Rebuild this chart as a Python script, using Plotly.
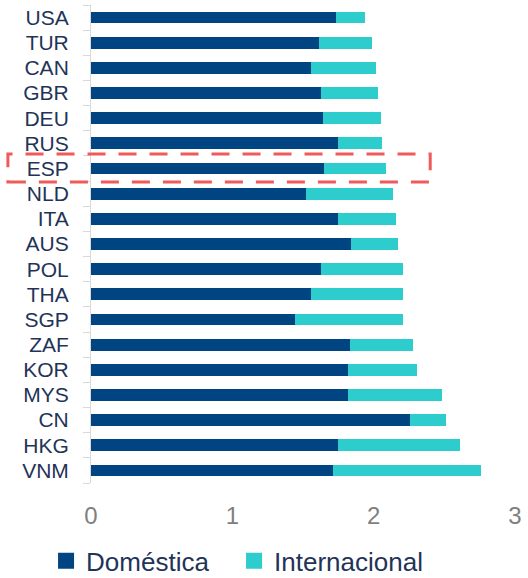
import plotly.graph_objects as go

countries = ["USA", "TUR", "CAN", "GBR", "DEU", "RUS", "ESP", "NLD", "ITA", "AUS",
             "POL", "THA", "SGP", "ZAF", "KOR", "MYS", "CN", "HKG", "VNM"]
domestica = [1.73, 1.61, 1.56, 1.63, 1.64, 1.75, 1.65, 1.52, 1.75, 1.84,
             1.63, 1.56, 1.44, 1.83, 1.82, 1.82, 2.26, 1.75, 1.71]
internacional = [0.21, 0.38, 0.46, 0.40, 0.41, 0.31, 0.44, 0.62, 0.41, 0.33,
                  0.58, 0.65, 0.77, 0.45, 0.49, 0.66, 0.25, 0.86, 1.05]
x_ticks = [0, 1, 2, 3]
series_names = ["Doméstica", "Internacional"]

DARK = "#004481"
AQUA = "#2dcccd"
NAVY = "#1f3458"

fig = go.Figure()
fig.add_trace(go.Bar(y=countries, x=domestica, orientation="h", name=series_names[0],
                     marker=dict(color=DARK, line=dict(width=0)), width=0.47,
                     showlegend=False))
fig.add_trace(go.Bar(y=countries, x=internacional, orientation="h", name=series_names[1],
                     marker=dict(color=AQUA, line=dict(width=0)), width=0.47,
                     showlegend=False))
# legend entries with larger square symbols
for nm, col in zip(series_names, [DARK, AQUA]):
    fig.add_trace(go.Scatter(x=[None], y=[None], mode="markers", name=nm,
                             marker=dict(symbol="square", size=17, color=col),
                             showlegend=True))

# highlight rectangle around ESP
fig.add_shape(type="rect", xref="paper", yref="paper",
              x0=-0.196, x1=0.80, y0=0.6297, y1=0.6883,
              line=dict(color="#f05a5a", width=3, dash="18px,13px"),
              fillcolor="rgba(0,0,0,0)")

fig.update_layout(
    width=528, height=578,
    margin=dict(l=91, r=13, t=5, b=95, autoexpand=False),
    barmode="stack",
    plot_bgcolor="white", paper_bgcolor="white",
    font=dict(family="Liberation Sans, Arial, sans-serif", color=NAVY),
    showlegend=True,
    legend=dict(orientation="h", x=-0.106, xanchor="left", y=-0.163, yanchor="middle",
                font=dict(size=26, color=NAVY), traceorder="normal",
                itemsizing="trace",
                entrywidth=143, entrywidthmode="pixels", itemwidth=30),
    xaxis=dict(range=[0, 3], tickvals=x_ticks, ticktext=[str(v) for v in x_ticks],
               showgrid=False, zeroline=False, showline=False, ticks="",
               tickfont=dict(size=24, color="#7f7f7f"), ticklabelstandoff=16,
               automargin=False),
    yaxis=dict(autorange="reversed", categoryorder="array", categoryarray=countries,
               tickmode="array", tickvals=countries,
               showline=True, linecolor="#d9d9d9", linewidth=1,
               ticks="outside", tickson="boundaries", ticklen=7, tickcolor="#d9d9d9",
               tickfont=dict(size=21, color=NAVY), ticklabelstandoff=17,
               showgrid=False, zeroline=False, automargin=False),
)

fig.write_html("out.html", config={"displayModeBar": False},
               post_script="document.body.style.margin='0';")
